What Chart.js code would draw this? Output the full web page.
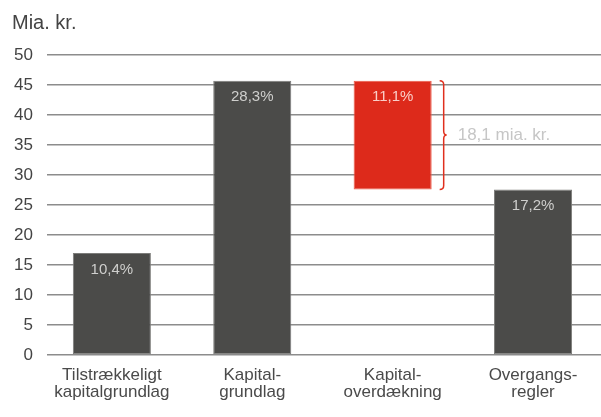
<!DOCTYPE html>
<html>
<head>
<meta charset="utf-8">
<script src="https://cdn.jsdelivr.net/npm/chart.js@4/dist/chart.umd.min.js"></script>
<style>
  html, body { margin: 0; padding: 0; background: #ffffff; }
  #wrap { width: 601px; height: 417px; }
</style>
</head>
<body>
<div id="wrap"><canvas id="chart"></canvas></div>
<script>
// Capital base vs. requirement, in billions of DKK
const categories = [
  ['Tilstrækkeligt', 'kapitalgrundlag'],
  ['Kapital-', 'grundlag'],
  ['Kapital-', 'overdækning'],
  ['Overgangs-', 'regler']
];
const barStarts = [0, 0, 27.6, 0];
const barEnds = [17.0, 45.7, 45.7, 27.6];
const shareLabels = ['10,4%', '28,3%', '11,1%', '17,2%'];
const surplusLabel = '18,1 mia. kr.';
const yTicks = [0, 5, 10, 15, 20, 25, 30, 35, 40, 45, 50];

const FONT = '"Liberation Sans", Arial, sans-serif';
const DARK = '#4b4b49';
const RED = '#dd2a1b';
const surplusIndex = 2;

const barColors = categories.map((_, i) => i === surplusIndex ? RED : DARK);
const barBorders = categories.map((_, i) => i === surplusIndex ? '#ec5a48' : '#7c7c7a');

// Percentage labels inside the bars, plus the brace marking the surplus
const barAnnotations = {
  id: 'barAnnotations',
  afterDatasetsDraw(chart) {
    const ctx = chart.ctx;
    const meta = chart.getDatasetMeta(0);
    const yScale = chart.scales.y;
    ctx.save();
    ctx.font = '15px ' + FONT;
    ctx.textAlign = 'center';
    ctx.textBaseline = 'top';
    meta.data.forEach((bar, i) => {
      ctx.fillStyle = i === surplusIndex ? 'rgba(255,235,230,0.85)' : '#cfcfcd';
      ctx.fillText(shareLabels[i], bar.x, bar.y + 9);
    });

    // curly brace beside the surplus bar
    const sb = meta.data[surplusIndex];
    const x0 = sb.x + sb.width / 2 + 8;
    const top = yScale.getPixelForValue(barEnds[surplusIndex]);
    const bottom = yScale.getPixelForValue(barStarts[surplusIndex]);
    const mid = (top + bottom) / 2;
    const r = 4;
    ctx.strokeStyle = '#e0301e';
    ctx.lineWidth = 1.5;
    ctx.beginPath();
    ctx.moveTo(x0, top);
    ctx.quadraticCurveTo(x0 + r, top, x0 + r, top + r);
    ctx.lineTo(x0 + r, mid - r);
    ctx.quadraticCurveTo(x0 + r, mid, x0 + r + 3, mid);
    ctx.quadraticCurveTo(x0 + r, mid, x0 + r, mid + r);
    ctx.lineTo(x0 + r, bottom - r);
    ctx.quadraticCurveTo(x0 + r, bottom, x0, bottom);
    ctx.stroke();

    ctx.font = '17px ' + FONT;
    ctx.fillStyle = '#c6c6c6';
    ctx.textAlign = 'left';
    ctx.textBaseline = 'middle';
    ctx.fillText(surplusLabel, x0 + 18, mid);
    ctx.restore();
  }
};

new Chart(document.getElementById('chart'), {
  type: 'bar',
  data: {
    datasets: [{
      data: categories.map((_, i) => ({ x: i, y: [barStarts[i], barEnds[i]] })),
      backgroundColor: barColors,
      borderColor: barBorders,
      borderWidth: 1,
      borderSkipped: false,
      barPercentage: 0.556,
      categoryPercentage: 1
    }]
  },
  options: {
    responsive: true,
    maintainAspectRatio: false,
    animation: false,
    layout: { padding: { left: 12, right: 0, top: 0, bottom: 0 } },
    plugins: {
      legend: { display: false },
      tooltip: { enabled: false },
      title: {
        display: true,
        text: 'Mia. kr.',
        align: 'start',
        color: '#444444',
        font: { family: FONT, size: 20, weight: 'normal' },
        padding: { top: 11, bottom: 20 }
      }
    },
    scales: {
      x: {
        type: 'linear',
        offset: false,
        min: -0.462,
        max: 3.484,
        grid: { display: false, offset: false },
        border: { display: false },
        afterBuildTicks(scale) {
          scale.ticks = categories.map((_, i) => ({ value: i }));
        },
        afterFit(scale) { scale.height = 62; },
        ticks: {
          autoSkip: false,
          maxRotation: 0,
          padding: 3,
          color: '#4a4a4a',
          font: { family: FONT, size: 17, lineHeight: 1.05 },
          callback: (value) => categories[value]
        }
      },
      y: {
        min: 0,
        max: 50,
        afterBuildTicks(scale) {
          scale.ticks = yTicks.map(v => ({ value: v }));
        },
        afterFit(scale) { scale.width = 35; },
        grid: { color: '#8c8c8c', lineWidth: 1.5, drawTicks: false },
        border: { display: false },
        ticks: {
          padding: 14,
          color: '#444444',
          font: { family: FONT, size: 17 }
        }
      }
    }
  },
  plugins: [barAnnotations]
});
</script>
</body>
</html>
